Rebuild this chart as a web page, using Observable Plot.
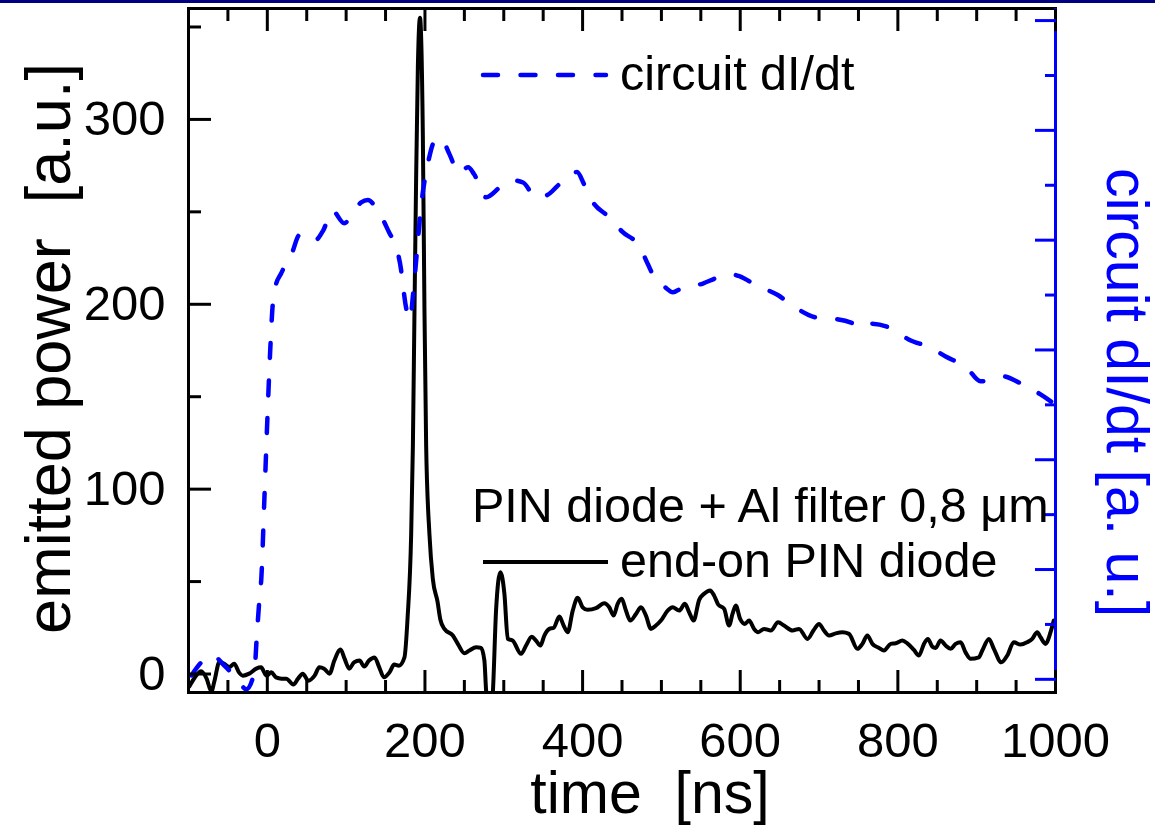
<!DOCTYPE html>
<html>
<head>
<meta charset="utf-8">
<script src="https://cdn.jsdelivr.net/npm/d3@7"></script>
<script src="https://cdn.jsdelivr.net/npm/@observablehq/plot@0.6"></script>
<style>
html, body { margin: 0; padding: 0; background: #fff; }
#wrap { position: relative; width: 1155px; height: 826px; overflow: hidden; font-family: "Liberation Sans", Arial, sans-serif; }
#bar { position: absolute; left: 0; top: 0; width: 1155px; height: 3px; background: #000080; }
#legend { position: absolute; left: 0; top: 0; pointer-events: none; }
</style>
</head>
<body>
<div id="wrap"><div id="chart"></div><div id="bar"></div><svg id="legend" width="1155" height="826"></svg></div>
<script>
// ---- data ----
// end-on PIN diode: [time ns, emitted power a.u.]
const diodeSeries = [
  [-99,-6.8],[-92,-1.9],[-84,1.5],[-77,-2.5],[-71,-9.4],[-67,-3.6],[-61,6.3],[-55,5.6],[-48,3.8],[-42,5.6],
  [-36,0.9],[-31,-0.9],[-23,0.2],[-14,2.9],[-8,3.6],[-1,-0.9],[5,0.9],[11,-1.8],[18,-2.5],[24,-2.5],
  [33,-5.7],[39,-2.5],[45,0.2],[52,-3.6],[60,-0.9],[66,3.6],[72,2.9],[79,0.2],[85,7.3],[93,13.2],
  [98,8.3],[104,2.9],[110,6.3],[117,7.3],[123,4.0],[129,7.3],[136,9.0],[142,3.6],[148,-1.8],[155,0.9],
  [161,5.1],[167,4.5],[174,9.0],[178,30.7],[182.5,75.5],[184.7,123.7],[186.7,195.9],[188.8,268.2],[191,328.4],[193.7,355],
  [197.3,292.3],[199.4,195.9],[201.5,123.7],[205.7,75.5],[210,51.4],[216,39],[219.5,29.5],[224.7,24.4],[235.4,20.8],[241.7,16.3],
  [250.1,11.2],[256.4,12.7],[264.9,14.5],[271.2,14.1],[275.4,7.3],[277.6,-9],[280,-18],[284,-18],[286,-10.8],[290.2,34.3],
  [295.7,55.1],[300.8,43.4],[305.1,19],[311.4,18.1],[321.9,10.9],[328.3,15.4],[335.5,20.2],[340.9,18.1],[346.4,15.4],[351.5,20.8],
  [357.8,24.4],[363.4,25],[370.5,31.1],[376,26.2],[381.1,22.6],[387.5,34.3],[393.8,41.2],[400.1,36.1],[406.5,34.7],[417,35.6],
  [427.5,38.3],[433.8,36.1],[439.4,31.6],[444.5,38],[449.6,40.7],[455,34.3],[460.5,28.9],[467.7,32.5],[474,36.1],[480.4,31.6],
  [486.7,24.4],[493,26.2],[499.4,28.9],[507.9,34.3],[514.2,36.1],[522.6,34.3],[529.8,38],[535.2,33.4],[540.8,28.9],[547.9,40.1],
  [554.2,43.4],[561.8,45.2],[566.9,42.4],[572,37.6],[579.6,35.2],[585.9,26.2],[590.2,32.5],[594.4,37],[599.9,29.8],[605.8,27.1],
  [611.3,28.9],[617.6,24.4],[622.7,22.6],[630.3,24.4],[638.8,23.5],[648,28],[655.6,26.2],[666.3,23.5],[674.7,24.4],[685.3,19],
  [692.9,23.5],[700,27.1],[706.3,23.5],[712.7,20.8],[721.2,22],[729.7,22.6],[738,21.7],[748.7,13.6],[755,16.3],[761.3,20.8],
  [767.7,16.3],[776.1,14.1],[782.4,12.7],[790.9,16.3],[797.2,16.6],[805.7,18.1],[812,16.6],[820.4,13],[826.7,10],[833.1,16.3],
  [838.1,19],[843.7,14.8],[847.9,14.1],[854.2,18.1],[860.6,15.4],[866.9,13.6],[873.3,16.3],[879.6,17.2],[885.9,11.7],[892.3,8.2],
  [902.8,9],[907.1,12.7],[915.5,19],[921.8,13.6],[931.2,6.3],[938.8,10],[947.1,17.2],[955.6,15.9],[964.1,17.2],[970.5,19],
  [976.8,22.6],[981,19.9],[987.3,16.3],[993.7,22.6],[997.8,28.9]
];
// circuit dI/dt: [time ns, right-axis a.u. (one unit per right-axis tick)]
const dIdtSeries = [
  [-96.3,0.07],[-83.7,0.31],[-69.7,0.44],[-55.8,0.27],[-38,0.0],[-26.6,-0.18],[-16.5,0.13],[-13.1,0.84],[-10.1,1.44],[-7.6,1.84],
  [-3.8,3.26],[0,4.72],[3.8,6.03],[6.3,6.72],[10.1,7.14],[17.7,7.40],[31.7,7.78],[40.6,8.09],[50.7,8.07],[59,7.98],
  [71,8.18],[82.4,8.54],[97.6,8.31],[107.7,8.47],[119.1,8.69],[127.5,8.73],[139.4,8.56],[154.6,8.14],[163.5,7.87],[169.8,7.45],
  [172.4,7.14],[176.2,6.76],[181.2,6.56],[185,7.03],[191.4,8.05],[193.9,8.45],[204.1,9.42],[212.9,9.82],[220.5,9.85],[230.7,9.58],
  [243.3,9.22],[254.8,9.33],[262.4,9.20],[277.6,8.78],[296.6,8.98],[310.5,9.09],[324.5,9.05],[340.9,8.78],[354.9,8.82],[367.6,8.98],
  [385.3,9.22],[392.9,9.24],[401.8,9.02],[411.9,8.72],[433.5,8.42],[449.9,8.16],[472.8,7.87],[482.9,7.56],[493,7.27],[503.2,7.16],
  [514.6,7.05],[524.7,7.12],[552.6,7.21],[571.6,7.32],[588.1,7.38],[599.5,7.34],[619.8,7.18],[647.7,7.0],[669.2,6.78],[697.1,6.59],
  [717.4,6.57],[744,6.48],[754.1,6.41],[765.5,6.48],[793.4,6.38],[813.7,6.19],[840.3,6.05],[860.6,5.88],[887.2,5.68],[904.9,5.43],
  [920.2,5.46],[932.8,5.52],[953.1,5.41],[968.3,5.30],[981,5.19],[997.5,5.03]
];

const xDomain = [-100, 1000];
const yDomain = [-10, 360];
const rightDomain = [-0.24, 12.22];
const xMajor = [0, 200, 400, 600, 800, 1000];
const xMinor = [-50, 50, 100, 150, 250, 300, 350, 450, 500, 550, 650, 700, 750, 850, 900, 950];
const yMajor = [0, 100, 200, 300];
const yMinor = [50, 150, 250, 350];
const rightMajor = [0, 2, 4, 6, 8, 10, 12];
const rightMinor = [1, 3, 5, 7, 9, 11];

const labels = {
  x: "time\u00a0 [ns]",
  y: "emitted power\u00a0 [a.u.]",
  y2: "circuit dI/dt [a. u.]",
  legendDash: "circuit dI/dt",
  legendNote: "PIN diode + Al filter 0,8 \u03bcm",
  legendSolid: "end-on PIN diode"
};

// right-axis units -> left-axis units
const toLeft = d3.scaleLinear(rightDomain, yDomain);

const FONT = "'Liberation Sans', Arial, Helvetica, sans-serif";
const tickOpts = {fill: "none", label: null, strokeWidth: 3};

const chart = Plot.plot({
  width: 1155,
  height: 826,
  marginLeft: 188,
  marginRight: 100,
  marginTop: 8,
  marginBottom: 134,
  style: {fontFamily: FONT, fontSize: "49px", color: "black", background: "white"},
  x: {domain: xDomain},
  y: {domain: yDomain},
  marks: [
    // data
    Plot.line(diodeSeries, {x: d => d[0], y: d => d[1], stroke: "black", strokeWidth: 4, curve: "monotone-x", clip: true, strokeLinejoin: "round"}),
    Plot.line(dIdtSeries, {x: d => d[0], y: d => toLeft(d[1]), stroke: "#0000ff", strokeWidth: 4.5,
      strokeDasharray: "15,22.5", strokeLinecap: "round", curve: "monotone-x", clip: true}),
    // frame
    Plot.frame({stroke: "black", strokeWidth: 3}),
    Plot.ruleX([xDomain[1]], {stroke: "#0000ff", strokeWidth: 3}),
    // inward ticks
    Plot.axisX(xMajor, {anchor: "bottom", tickSize: 22, dy: -22, ...tickOpts}),
    Plot.axisX(xMinor, {anchor: "bottom", tickSize: 12, dy: -12, ...tickOpts}),
    Plot.axisX(xMajor, {anchor: "top", tickSize: 22, dy: 22, ...tickOpts}),
    Plot.axisX(xMinor, {anchor: "top", tickSize: 12, dy: 12, ...tickOpts}),
    Plot.axisY(yMajor, {anchor: "left", tickSize: 23, dx: 23, ...tickOpts}),
    Plot.axisY(yMinor, {anchor: "left", tickSize: 13, dx: 13, ...tickOpts}),
    Plot.axisY(rightMajor.map(toLeft), {anchor: "right", tickSize: 21, dx: -21, ...tickOpts, stroke: "#0000ff"}),
    Plot.axisY(rightMinor.map(toLeft), {anchor: "right", tickSize: 11, dx: -11, ...tickOpts, stroke: "#0000ff"}),
    // tick labels
    Plot.axisX(xMajor, {anchor: "bottom", tickSize: 0, tickPadding: 30, label: null, fontSize: 49, tickFormat: d => String(d)}),
    Plot.axisY(yMajor, {anchor: "left", tickSize: 0, tickPadding: 23, label: null, fontSize: 49, tickFormat: d => String(d)}),
    // axis titles
    Plot.text([labels.x], {frameAnchor: "bottom", dx: 28, dy: 120, fontSize: 59, lineAnchor: "bottom", textAnchor: "middle"}),
    Plot.text([labels.y], {frameAnchor: "left", rotate: -90, dx: -119, dy: -2, fontSize: 63, lineAnchor: "bottom", textAnchor: "middle"}),
    Plot.text([labels.y2], {frameAnchor: "right", rotate: 90, dx: 51, dy: 42, fontSize: 59, lineAnchor: "bottom", textAnchor: "middle", fill: "#0000ff"})
  ]
});
document.getElementById("chart").appendChild(chart);

// legend (inside plot area)
const leg = d3.select("#legend");
leg.append("line").attr("x1", 483).attr("x2", 606).attr("y1", 75).attr("y2", 75)
  .attr("stroke", "#0000ff").attr("stroke-width", 4.5).attr("stroke-dasharray", "15,22.5").attr("stroke-linecap", "round");
leg.append("text").attr("x", 620).attr("y", 90).text(labels.legendDash)
  .attr("font-family", FONT).attr("font-size", 48.5).attr("fill", "black");
leg.append("text").attr("x", 472).attr("y", 522).text(labels.legendNote)
  .attr("font-family", FONT).attr("font-size", 48.5).attr("fill", "black");
leg.append("line").attr("x1", 483).attr("x2", 608).attr("y1", 562).attr("y2", 562)
  .attr("stroke", "black").attr("stroke-width", 4);
leg.append("text").attr("x", 620).attr("y", 577).text(labels.legendSolid)
  .attr("font-family", FONT).attr("font-size", 48.5).attr("fill", "black");
</script>
</body>
</html>
